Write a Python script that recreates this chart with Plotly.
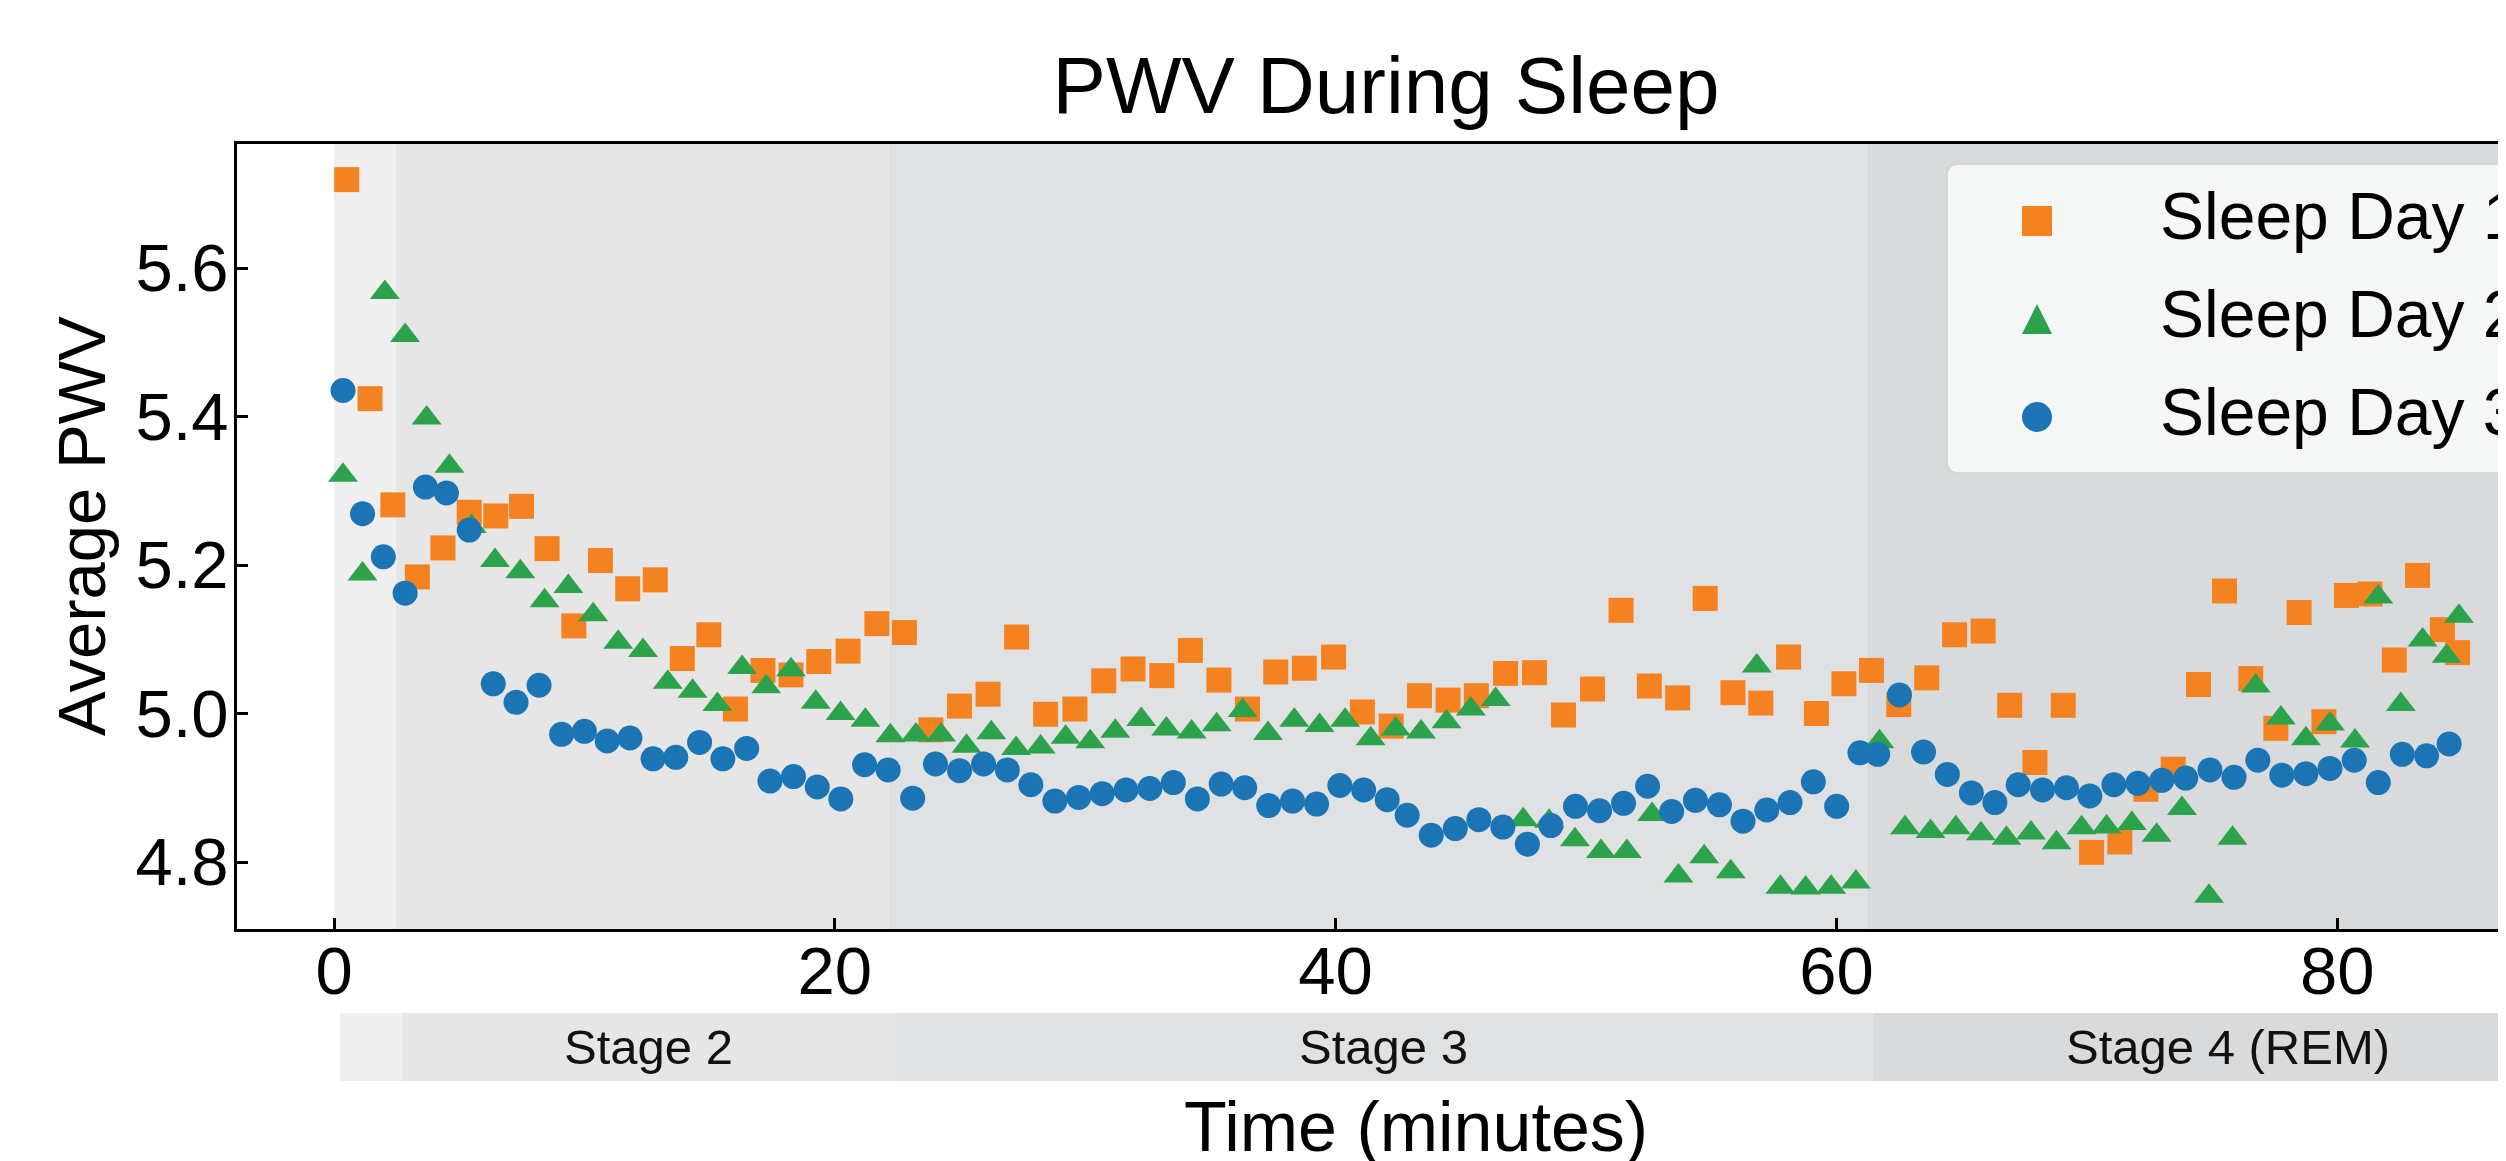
import plotly.graph_objects as go

# ---------------- data ----------------
series_names = ["Sleep Day 1", "Sleep Day 2", "Sleep Day 3"]
series_colors = ["#F58220", "#2CA24B", "#1B75B5"]

day1_x = [0.51, 1.44, 2.35, 3.33, 4.35, 5.40, 6.46, 7.49, 8.51, 9.58, 10.64, 11.73, 12.83, 13.91,
          14.97, 16.03, 17.13, 18.25, 19.36, 20.53, 21.68, 22.78, 23.84, 24.98, 26.12, 27.26, 28.42,
          29.59, 30.74, 31.91, 33.06, 34.20, 35.34, 36.48, 37.61, 38.75, 39.92, 41.07, 42.22, 43.35,
          44.49, 45.62, 46.79, 47.94, 49.10, 50.26, 51.40, 52.53, 53.66, 54.76, 55.87, 56.98, 58.09,
          59.20, 60.30, 61.40, 62.49, 63.61, 64.72, 65.86, 66.92, 67.93, 69.06, 70.19, 71.32, 72.36,
          73.45, 74.46, 75.50, 76.55, 77.55, 78.48, 79.47, 80.37, 81.31, 82.28, 83.21, 84.20, 84.81]
day1_y = [5.719, 5.424, 5.281, 5.184, 5.223, 5.271, 5.266, 5.279, 5.222, 5.118, 5.206, 5.168, 5.180,
          5.074, 5.106, 5.006, 5.058, 5.052, 5.070, 5.084, 5.121, 5.109, 4.978, 5.010, 5.026, 5.103,
          4.999, 5.006, 5.044, 5.060, 5.051, 5.085, 5.045, 5.006, 5.056, 5.061, 5.076, 5.002, 4.983,
          5.024, 5.018, 5.024, 5.054, 5.055, 4.998, 5.033, 5.139, 5.037, 5.021, 5.155, 5.028, 5.014,
          5.076, 5.000, 5.040, 5.058, 5.012, 5.048, 5.106, 5.111, 5.011, 4.934, 5.011, 4.813, 4.827,
          4.898, 4.925, 5.039, 5.165, 5.047, 4.980, 5.136, 4.989, 5.159, 5.161, 5.072, 5.186, 5.113,
          5.082]

day2_x = [0.36, 1.14, 2.03, 2.84, 3.70, 4.61, 5.50, 6.43, 7.44, 8.41, 9.36, 10.35, 11.35, 12.34,
          13.33, 14.32, 15.31, 16.30, 17.26, 18.25, 19.24, 20.23, 21.22, 22.22, 23.24, 24.24, 25.26,
          26.25, 27.24, 28.22, 29.22, 30.20, 31.20, 32.24, 33.24, 34.25, 35.25, 36.29, 37.30, 38.35,
          39.36, 40.38, 41.40, 42.40, 43.41, 44.43, 45.40, 46.39, 47.49, 48.53, 49.56, 50.60, 51.63,
          52.64, 53.69, 54.72, 55.78, 56.82, 57.76, 58.77, 59.79, 60.78, 61.72, 62.74, 63.76, 64.77,
          65.77, 66.79, 67.77, 68.79, 69.79, 70.79, 71.80, 72.79, 73.80, 74.88, 75.82, 76.75, 77.75,
          78.75, 79.71, 80.71, 81.64, 82.54, 83.41, 84.37, 84.86]
day2_y = [5.321, 5.188, 5.567, 5.509, 5.398, 5.333, 5.252, 5.206, 5.191, 5.152, 5.171, 5.133, 5.096,
          5.085, 5.042, 5.030, 5.012, 5.062, 5.036, 5.059, 5.015, 5.000, 4.991, 4.970, 4.971, 4.971,
          4.956, 4.974, 4.953, 4.955, 4.968, 4.962, 4.976, 4.992, 4.979, 4.975, 4.985, 5.004, 4.973,
          4.991, 4.984, 4.991, 4.966, 4.979, 4.975, 4.989, 5.006, 5.019, 4.857, 4.855, 4.830, 4.814,
          4.814, 4.864, 4.781, 4.807, 4.787, 5.064, 4.766, 4.765, 4.766, 4.773, 4.962, 4.846, 4.841,
          4.846, 4.838, 4.832, 4.839, 4.826, 4.846, 4.847, 4.852, 4.836, 4.872, 4.754, 4.832, 5.037,
          4.994, 4.966, 4.986, 4.963, 5.157, 5.012, 5.099, 5.077, 5.131]

day3_x = [0.36, 1.14, 1.97, 2.84, 3.65, 4.49, 5.40, 6.36, 7.27, 8.19, 9.09, 10.00, 10.91, 11.82,
          12.74, 13.65, 14.60, 15.53, 16.48, 17.41, 18.35, 19.30, 20.24, 21.19, 22.13, 23.11, 24.02,
          24.98, 25.94, 26.89, 27.83, 28.79, 29.74, 30.68, 31.63, 32.58, 33.52, 34.48, 35.43, 36.37,
          37.33, 38.28, 39.24, 40.17, 41.12, 42.06, 42.86, 43.82, 44.78, 45.72, 46.68, 47.66, 48.60,
          49.58, 50.54, 51.50, 52.46, 53.42, 54.37, 55.33, 56.27, 57.22, 58.15, 59.08, 60.01, 60.94,
          61.65, 62.52, 63.48, 64.43, 65.39, 66.33, 67.26, 68.23, 69.19, 70.12, 71.08, 72.04, 73.00,
          73.95, 74.92, 75.88, 76.83, 77.79, 78.75, 79.71, 80.68, 81.64, 82.60, 83.57, 84.47]
day3_y = [5.435, 5.269, 5.211, 5.162, 5.305, 5.297, 5.247, 5.040, 5.015, 5.038, 4.972, 4.976, 4.963,
          4.967, 4.939, 4.941, 4.961, 4.939, 4.953, 4.909, 4.915, 4.901, 4.885, 4.931, 4.924, 4.886,
          4.932, 4.923, 4.932, 4.924, 4.904, 4.882, 4.887, 4.892, 4.897, 4.899, 4.907, 4.885, 4.905,
          4.900, 4.876, 4.882, 4.878, 4.903, 4.897, 4.884, 4.863, 4.836, 4.845, 4.857, 4.847, 4.824,
          4.849, 4.875, 4.869, 4.879, 4.902, 4.868, 4.883, 4.877, 4.855, 4.870, 4.880, 4.908, 4.875,
          4.947, 4.945, 5.025, 4.948, 4.918, 4.893, 4.880, 4.904, 4.897, 4.900, 4.889, 4.904, 4.906,
          4.910, 4.913, 4.924, 4.914, 4.937, 4.917, 4.919, 4.926, 4.937, 4.907, 4.945, 4.943, 4.959]

stage_names = ["Stage 1", "Stage 2", "Stage 3", "Stage 4 (REM)"]
stage_start = [0.0, 2.48, 22.15, 61.2]
stage_end = [2.48, 22.15, 61.2, 89.6]
stage_colors = ["#efefef", "#e6e6e6", "#e0e1e3", "#d9dadc"]
stage_show_label = [False, True, True, True]

x_ticks = [0, 20, 40, 60, 80]
y_ticks = [4.8, 5.0, 5.2, 5.4, 5.6]

title_text = "PWV During Sleep"
x_title = "Time (minutes)"
y_title = "Average PWV"

# ---------------- geometry (screen pixels) ----------------
FONT = "Liberation Sans, Arial, Helvetica, sans-serif"
W, H = 2680, 1161
OFF = 8  # page body margin


def px_x(sx):
    return (sx - OFF) / W


def px_y(sy):
    return 1 - (sy - OFF) / H


PL, PR, PT, PB = 237, 2600, 144, 929
X0_PX, PX_PER_MIN = 334.0, 25.04
Y56_PX, PX_PER_UNIT = 268.0, 742.5
x_range = [(PL - X0_PX) / PX_PER_MIN, (PR - X0_PX) / PX_PER_MIN]
y_range = [5.6 - (PB - Y56_PX) / PX_PER_UNIT, 5.6 - (PT - Y56_PX) / PX_PER_UNIT]

STRIP_SHIFT = 6
ST_T, ST_B = 1013, 1081

fig = go.Figure()

symbols = ["square", "triangle-up", "circle"]
sizes = [25, 26, 25]
for name, xs, ys, col, sym, sz in zip(series_names, [day1_x, day2_x, day3_x],
                                      [day1_y, day2_y, day3_y], series_colors, symbols, sizes):
    fig.add_trace(go.Scatter(x=xs, y=ys, mode="markers", name=name, showlegend=False,
                             marker=dict(symbol=sym, size=sz, color=col, line=dict(width=0)),
                             xaxis="x", yaxis="y"))

# custom legend markers on a full-figure pixel subplot (x3/y3)
leg_sym = ["square", "arrow-up", "circle"]
leg_x = [2037 - OFF] * 3
leg_y = [221 - OFF, 304 - OFF, 417 - OFF]
for i in range(3):
    fig.add_trace(go.Scatter(x=[leg_x[i]], y=[leg_y[i]], mode="markers", showlegend=False,
                             hoverinfo="skip", cliponaxis=False,
                             marker=dict(symbol=leg_sym[i], size=30, color=series_colors[i],
                                         line=dict(width=0)),
                             xaxis="x3", yaxis="y3"))

shapes = []
for s0, s1, c in zip(stage_start, stage_end, stage_colors):
    shapes.append(dict(type="rect", xref="x", yref="y domain", x0=s0, x1=s1, y0=0, y1=1,
                       fillcolor=c, line=dict(width=0), layer="below"))
for s0, s1, c in zip(stage_start, stage_end, stage_colors):
    shapes.append(dict(type="rect", xref="x2", yref="y2 domain", x0=s0, x1=s1, y0=0, y1=1,
                       fillcolor=c, line=dict(width=0), layer="below"))

# rounded legend box (paper coordinates)
bx0, bx1, by0, by1, rad = 1947, 2575, 164, 473, 12
rx, ry = rad / W, rad / H
X0, X1, Y0, Y1 = px_x(bx0), px_x(bx1), px_y(by1), px_y(by0)
path = (f"M{X0 + rx},{Y0} L{X1 - rx},{Y0} Q{X1},{Y0} {X1},{Y0 + ry} "
        f"L{X1},{Y1 - ry} Q{X1},{Y1} {X1 - rx},{Y1} L{X0 + rx},{Y1} "
        f"Q{X0},{Y1} {X0},{Y1 - ry} L{X0},{Y0 + ry} Q{X0},{Y0} {X0 + rx},{Y0} Z")
shapes.append(dict(type="path", xref="paper", yref="paper", path=path,
                   fillcolor="#f5f6f6", line=dict(color="#d2d4d5", width=1.5), layer="below"))

annotations = []
for nm, s0, s1, show in zip(stage_names, stage_start, stage_end, stage_show_label):
    if show:
        annotations.append(dict(text=nm, xref="x2", yref="y2 domain", x=(s0 + s1) / 2, y=0.5,
                                showarrow=False, xanchor="center", yanchor="middle",
                                font=dict(family=FONT, size=49, color="#111111")))

leg_text_y = [216, 314, 412]
for nm, ty in zip(series_names, leg_text_y):
    annotations.append(dict(text=nm, xref="paper", yref="paper", x=px_x(2158), y=px_y(ty),
                            showarrow=False, xanchor="left", yanchor="middle",
                            font=dict(family=FONT, size=66, color="black")))

annotations.append(dict(text=x_title, xref="paper", yref="paper", x=px_x(1416), y=px_y(1127),
                        showarrow=False, xanchor="center", yanchor="middle",
                        font=dict(family=FONT, size=70, color="black")))
annotations.append(dict(text=y_title, xref="paper", yref="paper", x=px_x(81), y=px_y(526),
                        showarrow=False, xanchor="center", yanchor="middle", textangle=-90,
                        font=dict(family=FONT, size=67, color="black")))

fig.update_layout(
    width=W, height=H,
    margin=dict(l=0, r=0, t=0, b=0, pad=0),
    paper_bgcolor="white", plot_bgcolor="rgba(0,0,0,0)",
    showlegend=False,
    font=dict(family=FONT, color="black"),
    title=dict(text=title_text, x=px_x(1386), xref="paper", xanchor="center",
               y=1 - (113 - OFF - 0.35 * 80) / H, yref="container", yanchor="middle",
               font=dict(family=FONT, size=80, color="black")),
    xaxis=dict(domain=[px_x(PL), px_x(PR)], range=x_range, anchor="y",
               tickmode="array", tickvals=x_ticks, ticktext=[str(v) for v in x_ticks],
               ticks="inside", ticklen=11, tickwidth=2.5, tickcolor="black",
               showline=True, linewidth=3, linecolor="black", mirror=True,
               showgrid=False, zeroline=False, ticklabelstandoff=-18,
               tickfont=dict(family=FONT, size=67, color="black")),
    yaxis=dict(domain=[px_y(PB), px_y(PT)], range=y_range, anchor="x",
               tickmode="array", tickvals=y_ticks, ticktext=[f"{v:.1f}" for v in y_ticks],
               ticks="inside", ticklen=11, tickwidth=2.5, tickcolor="black",
               showline=True, linewidth=3, linecolor="black", mirror=True,
               showgrid=False, zeroline=False, ticklabelstandoff=-8,
               tickfont=dict(family=FONT, size=67, color="black")),
    xaxis2=dict(domain=[px_x(PL + STRIP_SHIFT), px_x(PR + STRIP_SHIFT)], range=x_range,
                anchor="y2", visible=False, showgrid=False, zeroline=False),
    yaxis2=dict(domain=[px_y(ST_B), px_y(ST_T)], range=[0, 1], anchor="x2",
                visible=False, showgrid=False, zeroline=False),
    xaxis3=dict(domain=[0, 1], range=[0, W], anchor="y3", visible=False,
                showgrid=False, zeroline=False),
    yaxis3=dict(domain=[0, 1], range=[H, 0], anchor="x3", visible=False,
                showgrid=False, zeroline=False),
    shapes=shapes,
    annotations=annotations,
)

fig.write_html("out.html")
